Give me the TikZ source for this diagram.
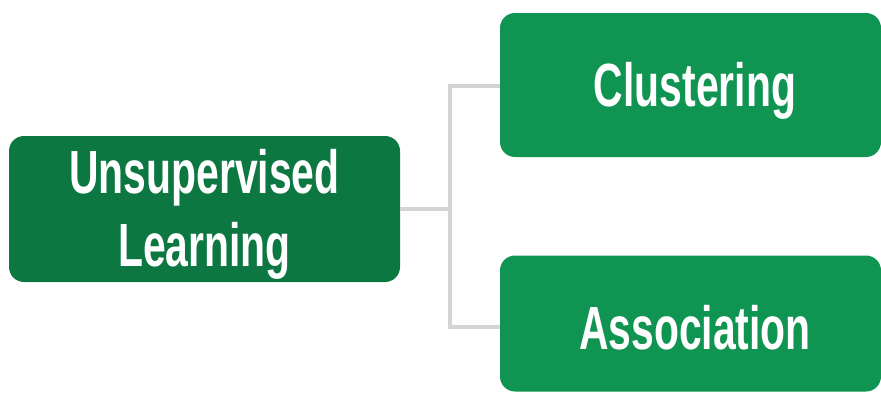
\documentclass[tikz,border=0pt]{standalone}
\usepackage{fontspec}
\newfontfamily\condfont[FakeStretch=0.67]{Liberation Sans}
\definecolor{darkgr}{HTML}{0D7741}
\definecolor{lightgr}{HTML}{109452}
\definecolor{connc}{HTML}{D4D4D4}
\tikzset{
  box/.style={rounded corners=15pt, draw=none, inner sep=0pt, text=white,
    font=\condfont\bfseries\fontsize{61}{73}\selectfont, align=center},
  conn/.style={draw=connc, line width=4pt}
}
\begin{document}
\begin{tikzpicture}[x=1pt,y=-1pt]
\useasboundingbox (0,0) rectangle (881,392);
\node[box, fill=darkgr, minimum width=391pt, minimum height=146pt, text height=115pt, text depth=0pt] (L) at (204.5,209) {Unsupervised\\Learning};
\node[box, fill=lightgr, minimum width=381pt, minimum height=144pt, text height=42pt, text depth=0pt] (C) at (690.5,85) {\hspace*{9pt}Clustering};
\node[box, fill=lightgr, minimum width=381pt, minimum height=136pt, text height=51pt, text depth=0pt] (A) at (690.5,323.5) {\hspace*{9pt}Association};
\coordinate (J) at ([xshift=50pt]L.east);
\draw[conn] (L.east) -- (J);
\draw[conn] ([yshift=-1pt]C.west) -| (J);
\draw[conn] ([yshift=-3.5pt]A.west) -| (J);
\end{tikzpicture}
\end{document}
